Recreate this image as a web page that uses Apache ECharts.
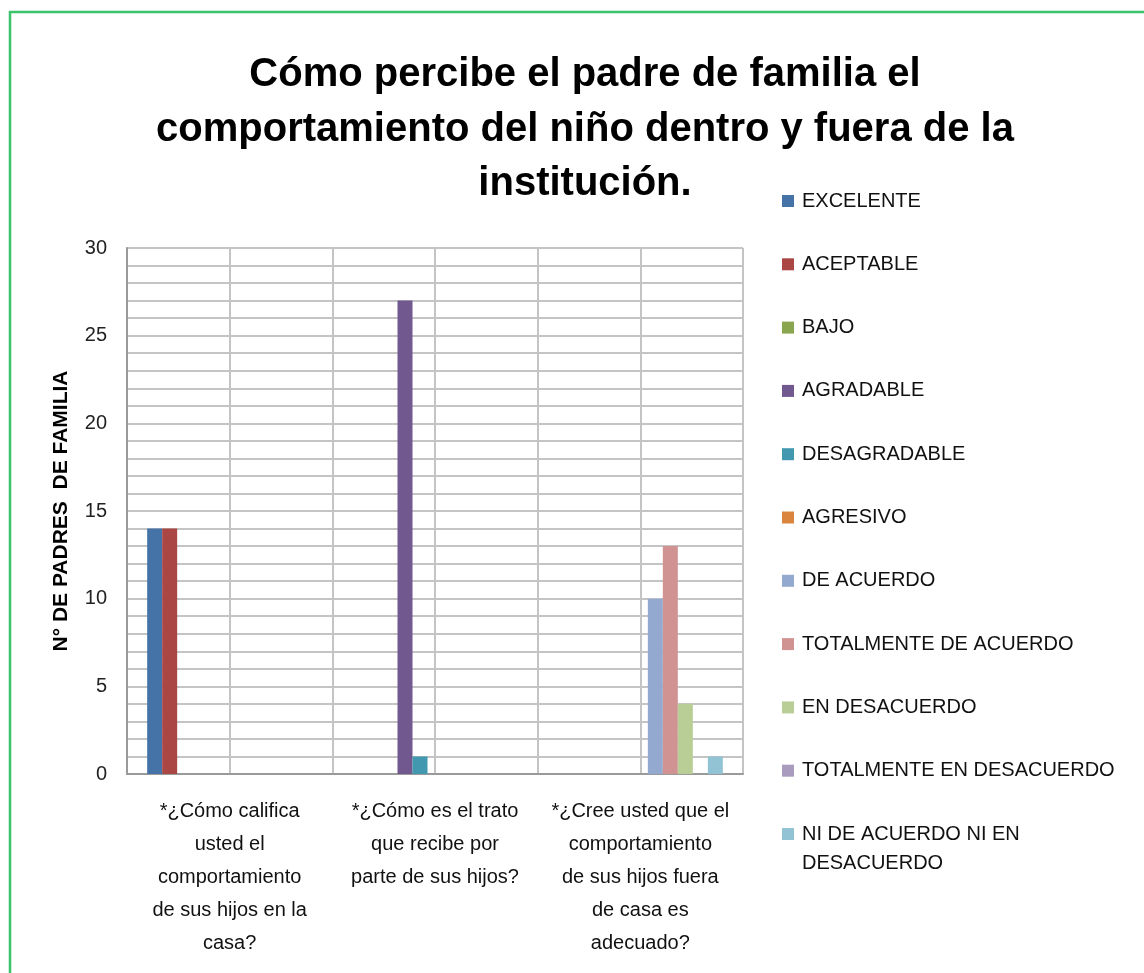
<!DOCTYPE html>
<html>
<head>
<meta charset="utf-8">
<title>Cómo percibe el padre de familia el comportamiento del niño</title>
<script src="https://cdn.jsdelivr.net/npm/echarts@6/dist/echarts.min.js"></script>
<style>
    html, body { margin: 0; padding: 0; background: #fff; }
    #chart { width: 1144px; height: 973px; }
</style>
</head>
<body>
<div id="chart"></div>
<script>
// Categories (survey questions)
const categories = [
    '*¿Cómo califica\nusted el\ncomportamiento\nde sus hijos en la\ncasa?',
    '*¿Cómo es el trato\nque recibe por\nparte de sus hijos?',
    '*¿Cree usted que el\ncomportamiento\nde sus hijos fuera\nde casa es\nadecuado?'
];

// Answer options (series)
const seriesNames = [
    'EXCELENTE', 'ACEPTABLE', 'BAJO', 'AGRADABLE', 'DESAGRADABLE', 'AGRESIVO',
    'DE ACUERDO', 'TOTALMENTE DE ACUERDO', 'EN DESACUERDO',
    'TOTALMENTE EN DESACUERDO', 'NI DE ACUERDO NI EN DESACUERDO'
];

// Number of parents per answer, one value per question
const excelente = [14, 0, 0];
const aceptable = [14, 0, 0];
const bajo = [0, 0, 0];
const agradable = [0, 27, 0];
const desagradable = [0, 1, 0];
const agresivo = [0, 0, 0];
const deAcuerdo = [0, 0, 10];
const totalmenteDeAcuerdo = [0, 0, 13];
const enDesacuerdo = [0, 0, 4];
const totalmenteEnDesacuerdo = [0, 0, 0];
const niDeAcuerdoNiEnDesacuerdo = [0, 0, 1];

const seriesValues = [
    excelente, aceptable, bajo, agradable, desagradable, agresivo,
    deAcuerdo, totalmenteDeAcuerdo, enDesacuerdo, totalmenteEnDesacuerdo, niDeAcuerdoNiEnDesacuerdo
];

const colors = [
    '#4572A7', '#AA4643', '#89A54E', '#71588F', '#4198AF', '#DB843D',
    '#93A9CF', '#D19392', '#B9CD96', '#A99BBD', '#91C3D5'
];

// Half-category slots, only used to draw the vertical grid lines
const gridSlots = ['', '', '', '', '', ''];

const yTicks = { min: 0, max: 30, interval: 5 };

const font = 'Liberation Sans, Arial, sans-serif';
const gridColor = '#c4c4c4';

const chart = echarts.init(document.getElementById('chart'), null, { renderer: 'canvas' });

const option = {
    backgroundColor: '#fff',
    animation: false,
    color: colors,
    title: {
        text: 'Cómo percibe el padre de familia el\ncomportamiento del niño dentro y fuera de la\ninstitución.',
        left: 580,
        top: 43,
        textAlign: 'center',
        textStyle: {
            fontFamily: font,
            fontSize: 40,
            fontWeight: 'bold',
            color: '#000',
            lineHeight: 54.5
        }
    },
    legend: {
        orient: 'vertical',
        left: 777,
        top: 186,
        icon: 'rect',
        itemWidth: 12,
        itemHeight: 12,
        itemGap: 43.3,
        data: seriesNames,
        formatter: (name) => name === 'NI DE ACUERDO NI EN DESACUERDO' ? 'NI DE ACUERDO NI EN' : name,
        textStyle: {
            fontFamily: font,
            fontSize: 20,
            lineHeight: 20,
            color: '#111',
            padding: [0, 0, 0, 3]
        }
    },
    graphic: [
        {
            type: 'text',
            left: 802,
            top: 853,
            style: { text: 'DESACUERDO', fontFamily: font, fontSize: 20, fill: '#111' }
        },
        {
            type: 'rect',
            shape: { x: 10, y: 12, width: 1200, height: 1000 },
            style: { fill: 'none', stroke: '#3cc46c', lineWidth: 2.5 },
            silent: true
        }
    ],
    grid: {
        left: 127,
        top: 248,
        width: 616,
        height: 526,
        containLabel: false
    },
    xAxis: [
        {
            type: 'category',
            data: categories,
            axisLine: { lineStyle: { color: '#9a9a9a', width: 2 } },
            axisTick: { show: false },
            splitLine: { show: false },
            axisLabel: {
                interval: 0,
                margin: 21,
                fontFamily: font,
                fontSize: 20,
                lineHeight: 33,
                color: '#111',
                align: 'center'
            }
        },
        {
            type: 'category',
            data: gridSlots,
            position: 'bottom',
            axisLine: { show: false },
            axisTick: { show: false },
            axisLabel: { show: false, interval: 0 },
            splitLine: { show: true, interval: 0, lineStyle: { color: gridColor, width: 2 } }
        }
    ],
    yAxis: {
        type: 'value',
        min: yTicks.min,
        max: yTicks.max,
        interval: yTicks.interval,
        name: 'N° DE PADRES  DE FAMILIA',
        nameLocation: 'middle',
        nameRotate: 90,
        nameGap: 55,
        nameTextStyle: {
            fontFamily: font,
            fontSize: 21,
            fontWeight: 'bold',
            color: '#000'
        },
        axisLine: { show: true, lineStyle: { color: '#9a9a9a', width: 2 } },
        axisTick: { show: false },
        axisLabel: {
            margin: 20,
            fontFamily: font,
            fontSize: 20,
            color: '#222'
        },
        splitLine: { show: true, lineStyle: { color: gridColor, width: 2 } },
        minorTick: { show: false, splitNumber: 5 },
        minorSplitLine: { show: true, lineStyle: { color: gridColor, width: 2 } }
    },
    series: seriesNames.map((name, i) => ({
        name: name,
        type: 'bar',
        xAxisIndex: 0,
        data: seriesValues[i],
        barWidth: 15,
        barGap: '0%',
        itemStyle: { color: colors[i] }
    }))
};

chart.setOption(option);
window.addEventListener('resize', () => chart?.resize());
</script>
</body>
</html>
